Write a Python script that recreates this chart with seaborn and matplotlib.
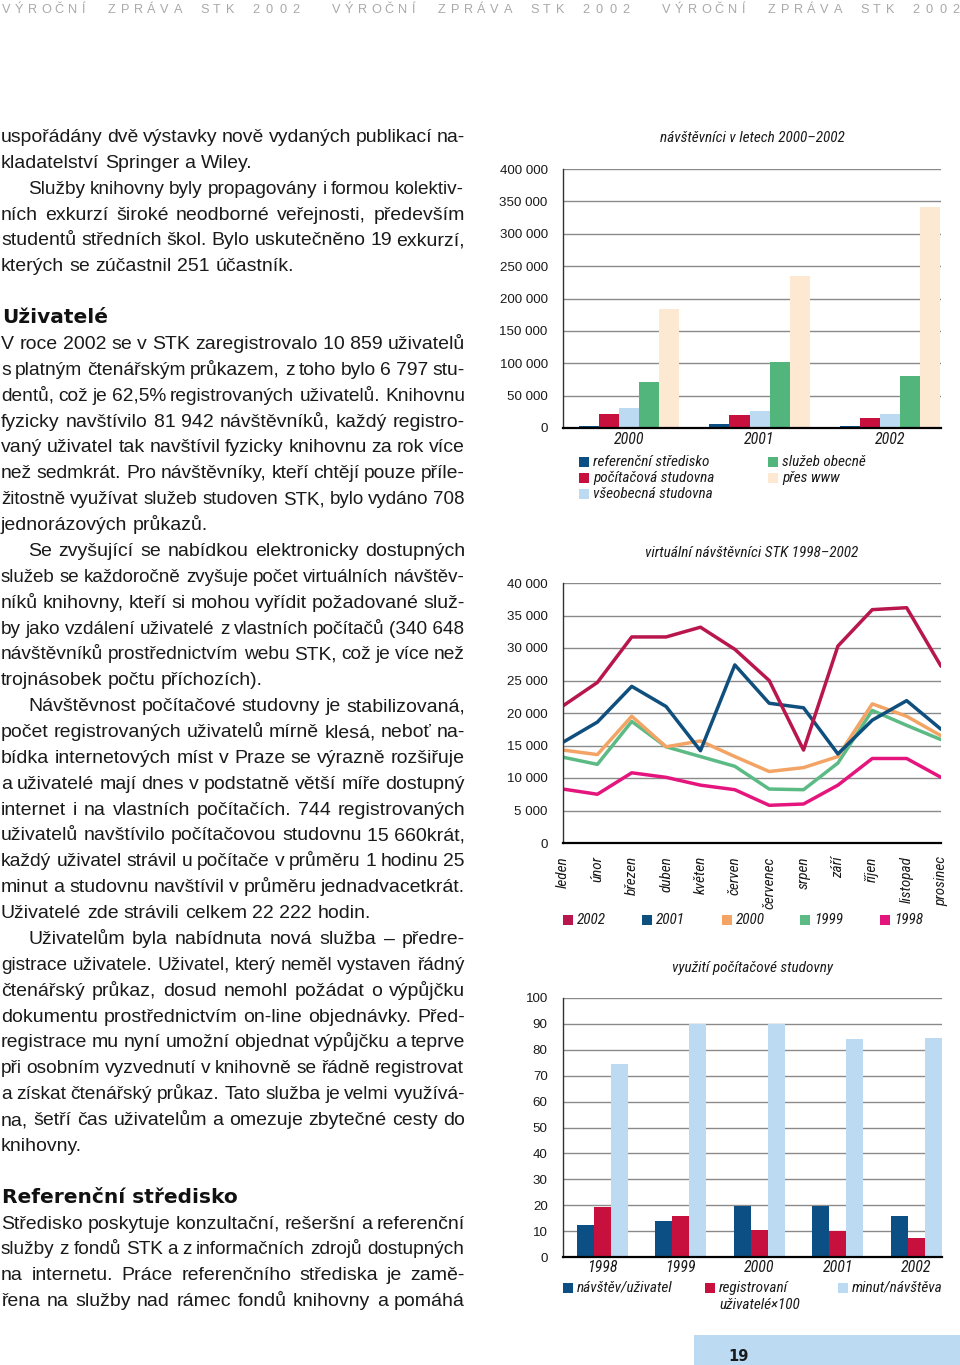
import matplotlib
matplotlib.use('Agg')
import matplotlib.pyplot as plt
import matplotlib.patches as mpatches
from matplotlib import font_manager
from matplotlib.ticker import FuncFormatter
import numpy as np
import pandas as pd
import seaborn as sns

W, H = 960, 1365

# návštěvníci v letech 2000-2002
roky_1 = ['2000', '2001', '2002']
kategorie_1 = ['referenční středisko', 'počítačová studovna', 'všeobecná studovna',
               'služeb obecně', 'přes www']
referencni = [3600, 5700, 3600]
pocitacova = [21100, 19600, 16000]
vseobecna = [30400, 26800, 21100]
sluzeb_obecne = [71500, 102000, 80800]
pres_www = [183300, 234200, 340648]

# virtuální návštěvníci STK 1998-2002
mesice = ['leden', 'únor', 'březen', 'duben', 'květen', 'červen', 'červenec',
          'srpen', 'září', 'říjen', 'listopad', 'prosinec']
roky_2 = ['1998', '1999', '2000', '2001', '2002']
v1998 = [8300, 7500, 10800, 10100, 8900, 8200, 5800, 6000, 8900, 13000, 13000, 10100]
v1999 = [13200, 12100, 18700, 14800, 13300, 11800, 8300, 8200, 12300, 20400, 18100, 15900]
v2000 = [14300, 13600, 19500, 14800, 15700, 13300, 11000, 11600, 13300, 21400, 19500, 16500]
v2001 = [15500, 18600, 24100, 21000, 14200, 27400, 21500, 20800, 13700, 18900, 21900, 17500]
v2002 = [21100, 24700, 31700, 31700, 33200, 29800, 25000, 14300, 30300, 35900, 36200, 27200]

# využití počítačové studovny
roky_3 = ['1998', '1999', '2000', '2001', '2002']
kategorie_3 = ['návštěv/uživatel', 'registrovaní uživatelé×100', 'minut/návštěva']
navstev_uzivatel = [12.4, 14.0, 19.8, 19.8, 15.7]
registrovani = [19.2, 15.7, 10.6, 9.9, 7.44]
minut_navsteva = [74.4, 89.8, 89.8, 84.2, 84.6]

# barvy
MODRA = '#0b4f85'
KARMIN = '#c8103f'
SVETLE_MODRA = '#bcdaf2'
ZELENA = '#52b57c'
KREM = '#fde8d2'
barvy_1 = dict(zip(kategorie_1, [MODRA, KARMIN, SVETLE_MODRA, ZELENA, KREM]))
barvy_2 = dict(zip(roky_2, ['#e5157e', '#5cbb85', '#f3a464', '#0f4f7d', '#b8164c']))
barvy_3 = dict(zip(kategorie_3, [MODRA, KARMIN, SVETLE_MODRA]))

# text sloupce vlevo
radky = [
    (0, 'uspořádány dvě výstavky nově vydaných publikací na-', 'j'),
    (1, 'kladatelství Springer a Wiley.', 'l'),
    (2, 'Služby knihovny byly propagovány i formou kolektiv-', 'ij'),
    (3, 'ních exkurzí široké neodborné veřejnosti, především', 'j'),
    (4, 'studentů středních škol. Bylo uskutečněno 19 exkurzí,', 'j'),
    (5, 'kterých se zúčastnil 251 účastník.', 'l'),
    (7, 'Uživatelé', 'h'),
    (8, 'V roce 2002 se v STK zaregistrovalo 10\u00a0859 uživatelů', 'j'),
    (9, 's platným čtenářským průkazem, z toho bylo 6\u00a0797 stu-', 'j'),
    (10, 'dentů, což je 62,5% registrovaných uživatelů. Knihovnu', 'j'),
    (11, 'fyzicky navštívilo 81\u00a0942 návštěvníků, každý registro-', 'j'),
    (12, 'vaný uživatel tak navštívil fyzicky knihovnu za rok více', 'j'),
    (13, 'než sedmkrát. Pro návštěvníky, kteří chtějí pouze příle-', 'j'),
    (14, 'žitostně využívat služeb studoven STK, bylo vydáno 708', 'j'),
    (15, 'jednorázových průkazů.', 'l'),
    (16, 'Se zvyšující se nabídkou elektronicky dostupných', 'ij'),
    (17, 'služeb se každoročně zvyšuje počet virtuálních návštěv-', 'j'),
    (18, 'níků knihovny, kteří si mohou vyřídit požadované služ-', 'j'),
    (19, 'by jako vzdálení uživatelé z vlastních počítačů (340\u00a0648', 'j'),
    (20, 'návštěvníků prostřednictvím webu STK, což je více než', 'j'),
    (21, 'trojnásobek počtu příchozích).', 'l'),
    (22, 'Návštěvnost počítačové studovny je stabilizovaná,', 'ij'),
    (23, 'počet registrovaných uživatelů mírně klesá, neboť na-', 'j'),
    (24, 'bídka internetových míst v Praze se výrazně rozšiřuje', 'j'),
    (25, 'a uživatelé mají dnes v podstatně větší míře dostupný', 'j'),
    (26, 'internet i na vlastních počítačích. 744 registrovaných', 'j'),
    (27, 'uživatelů navštívilo počítačovou studovnu 15\u00a0660krát,', 'j'),
    (28, 'každý uživatel strávil u počítače v průměru 1 hodinu 25', 'j'),
    (29, 'minut a studovnu navštívil v průměru jednadvacetkrát.', 'j'),
    (30, 'Uživatelé zde strávili celkem 22\u00a0222 hodin.', 'l'),
    (31, 'Uživatelům byla nabídnuta nová služba – předre-', 'ij'),
    (32, 'gistrace uživatele. Uživatel, který neměl vystaven řádný', 'j'),
    (33, 'čtenářský průkaz, dosud nemohl požádat o výpůjčku', 'j'),
    (34, 'dokumentu prostřednictvím on-line objednávky. Před-', 'j'),
    (35, 'registrace mu nyní umožní objednat výpůjčku a teprve', 'j'),
    (36, 'při osobním vyzvednutí v knihovně se řádně registrovat', 'j'),
    (37, 'a získat čtenářský průkaz. Tato služba je velmi využívá-', 'j'),
    (38, 'na, šetří čas uživatelům a omezuje zbytečné cesty do', 'j'),
    (39, 'knihovny.', 'l'),
    (41, 'Referenční středisko', 'h'),
    (42, 'Středisko poskytuje konzultační, rešeršní a referenční', 'j'),
    (43, 'služby z fondů STK a z informačních zdrojů dostupných', 'j'),
    (44, 'na internetu. Práce referenčního střediska je zamě-', 'j'),
    (45, 'řena na služby nad rámec fondů knihovny a pomáhá', 'j'),
]

sns.set_style('white')
names = {f.name for f in font_manager.fontManager.ttflist}
BODY = 'Liberation Sans' if 'Liberation Sans' in names else 'DejaVu Sans'
NARROW = next(n for n in ['Liberation Sans Narrow', 'Roboto Condensed', 'DejaVu Sans'] if n in names or n == 'DejaVu Sans')
nscale = 1.0 if NARROW != 'DejaVu Sans' else 0.82
plt.rcParams['font.family'] = [BODY, 'DejaVu Sans']

fig = plt.figure(figsize=(9.6, 13.65), dpi=100)
fig.patch.set_facecolor('white')
renderer = fig.canvas.get_renderer()


def fy(y):
    return 1 - y / H


def add_ax(left, top, right, bottom):
    return fig.add_axes([left / W, 1 - bottom / H, (right - left) / W, (bottom - top) / H])


def tisice(v, pos):
    return f'{int(round(v)):,}'.replace(',', ' ')


def styl(ax, yticks, fmt):
    ax.set_ylim(yticks[0], yticks[-1])
    ax.set_yticks(yticks)
    ax.yaxis.set_major_formatter(FuncFormatter(fmt))
    ax.yaxis.grid(True, color='#8a8a8a', lw=1.0)
    ax.xaxis.grid(False)
    ax.set_axisbelow(True)
    ax.set_facecolor('none')
    for s in ['top', 'right']:
        ax.spines[s].set_visible(False)
    ax.spines['left'].set_color('#333333')
    ax.spines['left'].set_linewidth(1.0)
    ax.spines['bottom'].set_color('black')
    ax.spines['bottom'].set_linewidth(1.6)
    ax.tick_params(axis='y', length=7, width=1, color='#8a8a8a', pad=4,
                   labelsize=9.6, labelcolor='#1a1a1a')
    ax.set_xlabel('')
    ax.set_ylabel('')


def kurziva(labels, size):
    for lab in labels:
        lab.set_fontfamily(NARROW)
        lab.set_fontstyle('italic')
        lab.set_fontsize(size * nscale)
        lab.set_color('#1a1a1a')


def titulek(y, s):
    fig.text(752 / W, fy(y), s, ha='center', va='center', fontfamily=NARROW,
             fontstyle='italic', fontsize=11 * nscale, color='#1a1a1a')


def legenda(x, y, barva, popis, druhy=None):
    fig.add_artist(mpatches.Rectangle((x / W, fy(y + 5)), 10 / W, 10 / H,
                                      transform=fig.transFigure, color=barva, lw=0))
    fig.text((x + 14) / W, fy(y + 4), popis, ha='left', va='baseline', fontfamily=NARROW,
             fontstyle='italic', fontsize=11 * nscale, color='#1a1a1a')
    if druhy:
        fig.text((x + 14) / W, fy(y + 21), druhy, ha='left', va='baseline', fontfamily=NARROW,
                 fontstyle='italic', fontsize=11 * nscale, color='#1a1a1a')


# ---- graf 1
ax1 = add_ax(563, 169, 941, 428)
hodnoty_1 = [referencni, pocitacova, vseobecna, sluzeb_obecne, pres_www]
df1 = pd.DataFrame([(r, k, v[i]) for k, v in zip(kategorie_1, hodnoty_1)
                    for i, r in enumerate(roky_1)], columns=['rok', 'kategorie', 'hodnota'])
sns.barplot(df1, x='rok', y='hodnota', hue='kategorie', order=roky_1, hue_order=kategorie_1,
            palette=barvy_1, width=0.77, gap=0, saturation=1, linewidth=0,
            errorbar=None, legend=False, ax=ax1)
styl(ax1, list(range(0, 400001, 50000)), tisice)
ax1.set_xlim(-0.506, 2.39)
ax1.set_xticks([-0.506, 0.5, 1.5], ['', '', ''])
ax1.set_xticks([0, 1, 2], roky_1, minor=True)
ax1.tick_params(axis='x', which='major', length=6.5, width=1.3, color='black')
ax1.tick_params(axis='x', which='minor', length=0, pad=3)
kurziva(ax1.get_xticklabels(minor=True), 11.5)
titulek(138, 'návštěvníci v letech 2000–2002')
legenda(579, 462, MODRA, 'referenční středisko')
legenda(579, 478, KARMIN, 'počítačová studovna')
legenda(579, 494, SVETLE_MODRA, 'všeobecná studovna')
legenda(768, 462, ZELENA, 'služeb obecně')
legenda(768, 478, KREM, 'přes www')

# ---- graf 2
ax2 = add_ax(563, 583, 941, 843)
serie_2 = [v1998, v1999, v2000, v2001, v2002]
df2 = pd.DataFrame([(r, i, v) for r, s in zip(roky_2, serie_2) for i, v in enumerate(s)],
                   columns=['rok', 'mesic', 'pocet'])
sns.lineplot(df2, x='mesic', y='pocet', hue='rok', hue_order=roky_2, palette=barvy_2,
             linewidth=2.5, estimator=None, sort=False, legend=False, ax=ax2)
styl(ax2, list(range(0, 40001, 5000)), tisice)
ax2.set_xlim(0, 11)
ax2.set_xticks(range(12), mesice, rotation=90)
ax2.tick_params(axis='x', which='major', length=6.5, width=1.3, color='black', pad=3)
kurziva(ax2.get_xticklabels(), 11)
titulek(553, 'virtuální návštěvníci STK 1998–2002')
for x, r in zip([563, 642, 722, 800, 880], ['2002', '2001', '2000', '1999', '1998']):
    legenda(x, 920, barvy_2[r], r)

# ---- graf 3
ax3 = add_ax(563, 998, 942, 1257)
hodnoty_3 = [navstev_uzivatel, registrovani, minut_navsteva]
df3 = pd.DataFrame([(r, k, v[i]) for k, v in zip(kategorie_3, hodnoty_3)
                    for i, r in enumerate(roky_3)], columns=['rok', 'kategorie', 'hodnota'])
sns.barplot(df3, x='rok', y='hodnota', hue='kategorie', order=roky_3, hue_order=kategorie_3,
            palette=barvy_3, width=0.65, gap=0, saturation=1, linewidth=0,
            errorbar=None, legend=False, ax=ax3)
styl(ax3, list(range(0, 101, 10)), lambda v, p: f'{int(v)}')
ax3.set_xlim(-0.5, 4.33)
ax3.set_xticks([-0.5, 0.5, 1.5, 2.5, 3.5, 4.33], [''] * 6)
ax3.set_xticks(range(5), roky_3, minor=True)
ax3.tick_params(axis='x', which='major', length=6.5, width=1.3, color='black')
ax3.tick_params(axis='x', which='minor', length=0, pad=2)
kurziva(ax3.get_xticklabels(minor=True), 11.5)
titulek(968, 'využití počítačové studovny')
legenda(563, 1288, MODRA, 'návštěv/uživatel')
legenda(705, 1288, KARMIN, 'registrovaní', 'uživatelé×100')
legenda(838, 1288, SVETLE_MODRA, 'minut/návštěva')

# ---- záhlaví
zahlavi = 'VÝROČNÍ ZPRÁVA STK 2002'
for x0 in [2, 332, 662]:
    for i, ch in enumerate(zahlavi):
        if ch != ' ':
            fig.text((x0 + i * 13.2) / W, fy(13), ch, ha='left', va='baseline',
                     fontsize=9.2, color='#a9a9a9', fontfamily=BODY)

# ---- text sloupce
VEL = 14.0
for k, text, typ in radky:
    y = 136 + 25.87 * k + 6
    if typ == 'h':
        fig.text(2 / W, fy(y), text, ha='left', va='baseline', fontsize=14.5,
                 fontweight='bold', fontfamily='DejaVu Sans', color='#111111')
        continue
    x0 = 28 if typ.startswith('i') else 1
    slova = text.split(' ')
    vel = VEL
    objs = [fig.text(0, fy(y), s, ha='left', va='baseline', fontsize=vel,
                     color='#1a1a1a', fontfamily=BODY) for s in slova]
    sirky = [t.get_window_extent(renderer).width for t in objs]
    mezera = 0.278 * vel * 100 / 72
    if typ.endswith('j') and len(slova) > 1:
        potreba = sum(sirky) + 0.8 * mezera * (len(slova) - 1)
        if potreba > 465 - x0:
            f = (465 - x0) / potreba
            vel = vel * f
            for t in objs:
                t.set_fontsize(vel)
            sirky = [w * f for w in sirky]
        gap = (465 - x0 - sum(sirky)) / (len(slova) - 1)
    else:
        gap = mezera
    x = x0
    for t, w in zip(objs, sirky):
        t.set_x(x / W)
        x += w + gap

# ---- číslo strany
fig.add_artist(mpatches.Rectangle((694 / W, 0), (W - 694) / W, 30 / H,
                                  transform=fig.transFigure, color='#bcdaf1', lw=0))
fig.text(728 / W, fy(1361), '19', ha='left', va='baseline', fontsize=10.5,
         fontweight='bold', fontfamily='DejaVu Sans', color='#1a1a1a')

fig.savefig('out.png', dpi=100)
